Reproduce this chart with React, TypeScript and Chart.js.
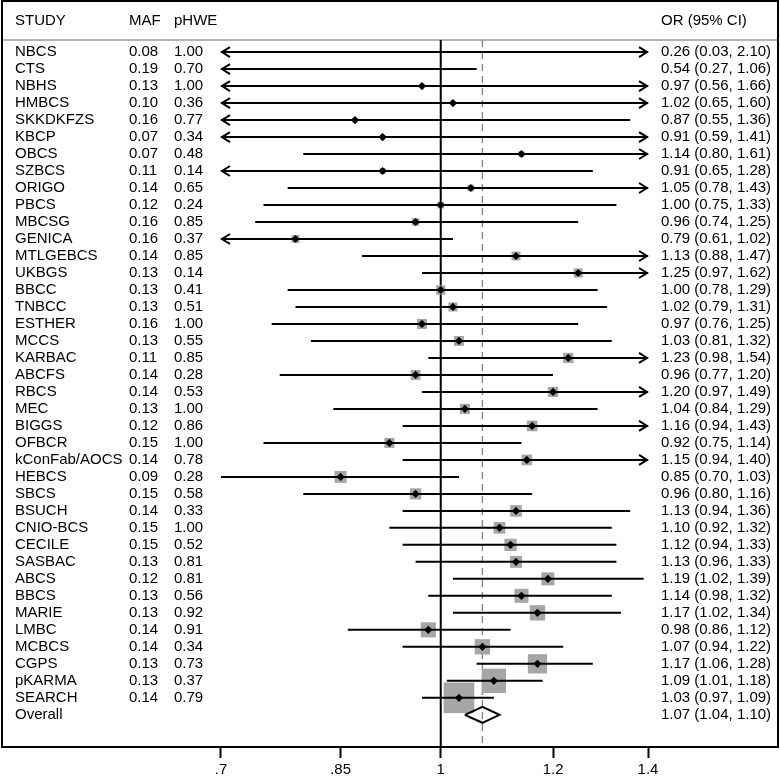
import React, { useEffect, useRef } from "react";
import { Chart, registerables } from "chart.js";
Chart.register(...registerables);

const studies = [
  "NBCS", "CTS", "NBHS", "HMBCS", "SKKDKFZS", "KBCP", "OBCS", "SZBCS", "ORIGO", "PBCS",
  "MBCSG", "GENICA", "MTLGEBCS", "UKBGS", "BBCC", "TNBCC", "ESTHER", "MCCS", "KARBAC", "ABCFS",
  "RBCS", "MEC", "BIGGS", "OFBCR", "kConFab/AOCS", "HEBCS", "SBCS", "BSUCH", "CNIO-BCS", "CECILE",
  "SASBAC", "ABCS", "BBCS", "MARIE", "LMBC", "MCBCS", "CGPS", "pKARMA", "SEARCH",
];
const maf = [
  0.08, 0.19, 0.13, 0.10, 0.16, 0.07, 0.07, 0.11, 0.14, 0.12,
  0.16, 0.16, 0.14, 0.13, 0.13, 0.13, 0.16, 0.13, 0.11, 0.14,
  0.14, 0.13, 0.12, 0.15, 0.14, 0.09, 0.15, 0.14, 0.15, 0.15,
  0.13, 0.12, 0.13, 0.13, 0.14, 0.14, 0.13, 0.13, 0.14,
];
const phwe = [
  1.00, 0.70, 1.00, 0.36, 0.77, 0.34, 0.48, 0.14, 0.65, 0.24,
  0.85, 0.37, 0.85, 0.14, 0.41, 0.51, 1.00, 0.55, 0.85, 0.28,
  0.53, 1.00, 0.86, 1.00, 0.78, 0.28, 0.58, 0.33, 1.00, 0.52,
  0.81, 0.81, 0.56, 0.92, 0.91, 0.34, 0.73, 0.37, 0.79,
];
const oddsRatios = [
  0.26, 0.54, 0.97, 1.02, 0.87, 0.91, 1.14, 0.91, 1.05, 1.00,
  0.96, 0.79, 1.13, 1.25, 1.00, 1.02, 0.97, 1.03, 1.23, 0.96,
  1.20, 1.04, 1.16, 0.92, 1.15, 0.85, 0.96, 1.13, 1.10, 1.12,
  1.13, 1.19, 1.14, 1.17, 0.98, 1.07, 1.17, 1.09, 1.03,
];
const ciLower = [
  0.03, 0.27, 0.56, 0.65, 0.55, 0.59, 0.80, 0.65, 0.78, 0.75,
  0.74, 0.61, 0.88, 0.97, 0.78, 0.79, 0.76, 0.81, 0.98, 0.77,
  0.97, 0.84, 0.94, 0.75, 0.94, 0.70, 0.80, 0.94, 0.92, 0.94,
  0.96, 1.02, 0.98, 1.02, 0.86, 0.94, 1.06, 1.01, 0.97,
];
const ciUpper = [
  2.10, 1.06, 1.66, 1.60, 1.36, 1.41, 1.61, 1.28, 1.43, 1.33,
  1.25, 1.02, 1.47, 1.62, 1.29, 1.31, 1.25, 1.32, 1.54, 1.20,
  1.49, 1.29, 1.43, 1.14, 1.40, 1.03, 1.16, 1.36, 1.32, 1.33,
  1.33, 1.39, 1.32, 1.34, 1.12, 1.22, 1.28, 1.18, 1.09,
];
// relative study weights (%)
const weights = [
  0.02, 0.2, 0.35, 0.5, 0.5, 0.55, 0.8, 0.85, 1.0, 1.1,
  1.3, 1.4, 1.85, 1.85, 2.0, 1.9, 2.3, 2.3, 2.4, 2.3,
  2.4, 2.3, 2.6, 2.3, 2.6, 3.3, 2.9, 3.1, 3.1, 3.5,
  3.3, 3.9, 4.5, 5.4, 5.2, 5.4, 8.55, 13.6, 21.6,
];
const overallOR = 1.07;
const overallLower = 1.04;
const overallUpper = 1.10;
const tickValues = [0.7, 0.85, 1, 1.2, 1.4];
const tickLabels = [".7", ".85", "1", "1.2", "1.4"];

const FONT = '"Liberation Sans", Arial, sans-serif';
const X_MIN = 0.4906;
const X_MAX = 1.7288;
const Y_MIN = -3.005;
const Y_MAX = 40.895;
const HEADER_ROW = -1.83;
const SEPARATOR_ROW = -0.707;
const SQUARE_SCALE = 6.6;
const GRAY = "#a6a6a6";

export default function App() {
  const ref = useRef<HTMLCanvasElement | null>(null);

  useEffect(() => {
    document.body.style.margin = "0";
    const canvas = ref.current;
    if (!canvas) return;
    const n = studies.length;
    const axisLo = tickValues[0];
    const axisHi = tickValues[tickValues.length - 1];
    const visible = (v: number) => v >= axisLo && v <= axisHi;
    const idx = oddsRatios.map((_, i) => i).filter((i) => visible(oddsRatios[i]));

    const decorPlugin = {
      id: "forestDecor",
      beforeDatasetsDraw(chart: any) {
        const { ctx, chartArea, scales } = chart;
        const y = scales.y.getPixelForValue(SEPARATOR_ROW);
        ctx.save();
        ctx.strokeStyle = "#b3b3b3";
        ctx.lineWidth = 2;
        ctx.beginPath();
        ctx.moveTo(chartArea.left, y);
        ctx.lineTo(chartArea.right, y);
        ctx.stroke();
        ctx.restore();
      },
      afterDatasetDraw(chart: any, args: any) {
        if (args.index !== 2) return;
        const { ctx, scales } = chart;
        const xs = scales.x;
        const ys = scales.y;
        ctx.save();
        ctx.strokeStyle = "#000";
        ctx.lineWidth = 2;
        ctx.lineCap = "butt";
        const aLen = 9;
        const aHalf = 5;
        for (let i = 0; i < n; i++) {
          const y = ys.getPixelForValue(i);
          const lo = Math.max(ciLower[i], axisLo);
          const hi = Math.min(ciUpper[i], axisHi);
          const x1 = xs.getPixelForValue(lo);
          const x2 = xs.getPixelForValue(hi);
          ctx.beginPath();
          ctx.moveTo(x1, y);
          ctx.lineTo(x2, y);
          ctx.stroke();
          if (ciLower[i] < axisLo) {
            ctx.beginPath();
            ctx.moveTo(x1 + aLen, y - aHalf);
            ctx.lineTo(x1 + 1, y);
            ctx.lineTo(x1 + aLen, y + aHalf);
            ctx.stroke();
          }
          if (ciUpper[i] >= axisHi) {
            ctx.beginPath();
            ctx.moveTo(x2 - aLen, y - aHalf);
            ctx.lineTo(x2 - 1, y);
            ctx.lineTo(x2 - aLen, y + aHalf);
            ctx.stroke();
          }
        }
        ctx.restore();
      },
      afterDraw(chart: any) {
        const { ctx, chartArea, scales } = chart;
        const ys = scales.y;
        ctx.save();
        ctx.strokeStyle = "#000";
        ctx.lineWidth = 2;
        ctx.strokeRect(chartArea.left, chartArea.top, chartArea.right - chartArea.left, chartArea.bottom - chartArea.top);
        ctx.fillStyle = "#000";
        ctx.font = `15px ${FONT}`;
        ctx.textBaseline = "middle";
        ctx.textAlign = "left";
        const colStudy = 15;
        const colMaf = 129;
        const colHwe = 174;
        const colOR = 661;
        const hy = ys.getPixelForValue(HEADER_ROW);
        ctx.fillText("STUDY", colStudy, hy);
        ctx.fillText("MAF", colMaf, hy);
        ctx.fillText("pHWE", colHwe, hy);
        ctx.fillText("OR (95% CI)", colOR, hy);
        for (let i = 0; i < n; i++) {
          const y = ys.getPixelForValue(i);
          ctx.fillText(studies[i], colStudy, y);
          ctx.fillText(maf[i].toFixed(2), colMaf, y);
          ctx.fillText(phwe[i].toFixed(2), colHwe, y);
          ctx.fillText(
            `${oddsRatios[i].toFixed(2)} (${ciLower[i].toFixed(2)}, ${ciUpper[i].toFixed(2)})`,
            colOR,
            y
          );
        }
        const oy = ys.getPixelForValue(n);
        ctx.fillText("Overall", colStudy, oy);
        ctx.fillText(
          `${overallOR.toFixed(2)} (${overallLower.toFixed(2)}, ${overallUpper.toFixed(2)})`,
          colOR,
          oy
        );
        ctx.restore();
      },
    };

    const dh = 0.47;
    const chart = new Chart(canvas, {
      type: "scatter",
      data: {
        datasets: [
          {
            label: "Overall",
            data: [
              { x: overallLower, y: n },
              { x: overallOR, y: n - dh },
              { x: overallUpper, y: n },
              { x: overallOR, y: n + dh },
              { x: overallLower, y: n },
            ],
            showLine: true,
            borderColor: "#000",
            borderWidth: 2,
            borderJoinStyle: "miter",
            pointRadius: 0,
            fill: false,
            tension: 0,
          } as any,
          {
            label: "OR",
            data: idx.map((i) => ({ x: oddsRatios[i], y: i })),
            pointStyle: "rectRot",
            pointRadius: 4.1,
            backgroundColor: "#000",
            borderWidth: 0,
          },
          {
            label: "Weight",
            data: idx.map((i) => ({ x: oddsRatios[i], y: i })),
            pointStyle: "rect",
            pointRadius: idx.map((i) => (SQUARE_SCALE * Math.sqrt(weights[i])) / Math.SQRT2),
            backgroundColor: GRAY,
            borderWidth: 0,
          },
          {
            label: "Null",
            data: [
              { x: 1, y: SEPARATOR_ROW },
              { x: 1, y: Y_MAX },
            ],
            showLine: true,
            borderColor: "#000",
            borderWidth: 2,
            pointRadius: 0,
          },
          {
            label: "OverallLine",
            data: [
              { x: overallOR, y: SEPARATOR_ROW },
              { x: overallOR, y: Y_MAX },
            ],
            showLine: true,
            borderColor: "#808080",
            borderWidth: 1.3,
            borderDash: [7, 5],
            pointRadius: 0,
          },
        ],
      },
      options: {
        animation: false,
        responsive: false,
        devicePixelRatio: 1,
        layout: { autoPadding: false, padding: { left: 2, right: 2, top: 1, bottom: -2 } },
        plugins: { legend: { display: false }, tooltip: { enabled: false } },
        scales: {
          x: {
            type: "logarithmic",
            position: "bottom",
            min: X_MIN,
            max: X_MAX,
            grid: {
              display: true,
              drawOnChartArea: false,
              drawTicks: true,
              tickLength: 11,
              tickColor: "#000",
              tickWidth: 2,
            },
            border: { display: false },
            ticks: {
              color: "#000",
              font: { size: 15, family: FONT },
              padding: 3,
              autoSkip: false,
              maxRotation: 0,
              callback: (_v: any, i: number) => tickLabels[i],
            },
            afterBuildTicks: (scale: any) => {
              scale.ticks = tickValues.map((v) => ({ value: v }));
            },
          },
          y: {
            type: "linear",
            min: Y_MIN,
            max: Y_MAX,
            reverse: true,
            display: false,
          },
        },
      },
      plugins: [decorPlugin],
    });
    return () => chart.destroy();
  }, []);

  return (
    <div style={{ width: 780, height: 780 }}>
      <canvas ref={ref} width={780} height={780} />
    </div>
  );
}
